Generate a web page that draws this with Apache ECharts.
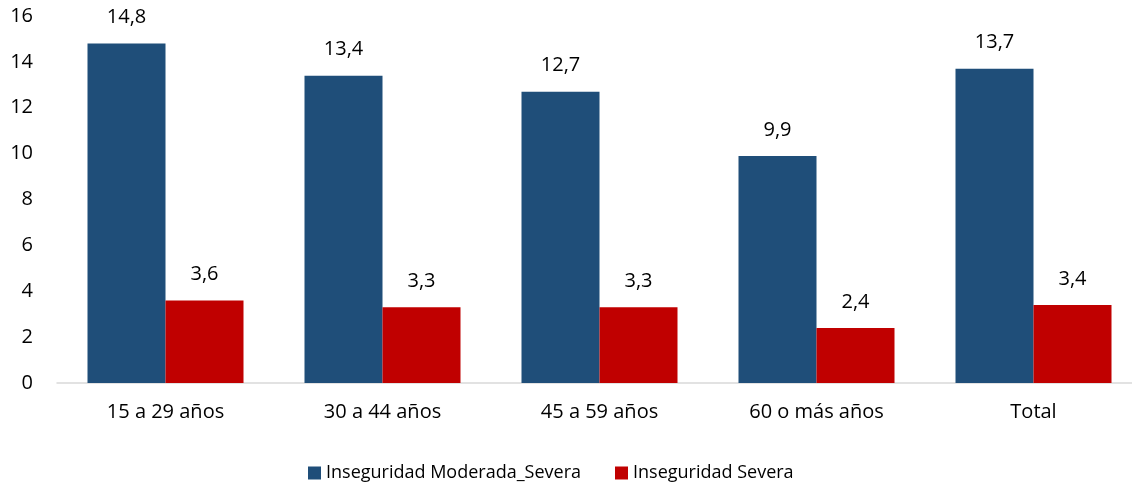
<!DOCTYPE html>
<html>
<head>
<meta charset="utf-8">
<script src="https://cdn.jsdelivr.net/npm/echarts@6/dist/echarts.min.js"></script>
<style>
  html, body { margin: 0; padding: 0; background: #fff; }
  #chart { width: 1132px; height: 487px; }
</style>
</head>
<body>
<div id="chart"></div>
<script>
const categories = ['15 a 29 años', '30 a 44 años', '45 a 59 años', '60 o más años', 'Total']
const moderadaSevera = [14.8, 13.4, 12.7, 9.9, 13.7]
const severa = [3.6, 3.3, 3.3, 2.4, 3.4]
const yTicks = { min: 0, max: 16, interval: 2 }

const font = '"Open Sans", sans-serif'
const commaLabel = p => String(p.value.toFixed(1)).replace('.', ',')

const chart = echarts.init(document.getElementById('chart'))
chart.setOption({
  animation: false,
  textStyle: { fontFamily: font },
  grid: { left: 57, top: 16, width: 1085, bottom: 104, outerBoundsMode: 'none', containLabel: false },
  legend: {
    bottom: 0,
    left: 303,
    icon: 'rect',
    itemWidth: 13,
    itemHeight: 13,
    itemGap: 34,
    textStyle: { fontSize: 18, color: '#000', fontFamily: font }
  },
  xAxis: {
    type: 'category',
    data: categories,
    axisTick: { show: false },
    axisLine: { lineStyle: { color: '#d9d9d9', width: 1.5 } },
    axisLabel: { fontSize: 20, color: '#000', margin: 19, fontFamily: font }
  },
  yAxis: {
    type: 'value',
    min: yTicks.min,
    max: yTicks.max,
    interval: yTicks.interval,
    splitLine: { show: false },
    axisLine: { show: false },
    axisTick: { show: false },
    axisLabel: { fontSize: 20, color: '#000', margin: 24, fontFamily: font }
  },
  series: [
    {
      name: 'Inseguridad Moderada_Severa',
      type: 'bar',
      data: moderadaSevera,
      barWidth: 78,
      barGap: '0%',
      itemStyle: { color: '#1F4E79' },
      label: { show: true, position: 'top', distance: 16, fontSize: 20, color: '#000', formatter: commaLabel }
    },
    {
      name: 'Inseguridad Severa',
      type: 'bar',
      data: severa,
      barWidth: 78,
      barGap: '0%',
      itemStyle: { color: '#C00000' },
      label: { show: true, position: 'top', distance: 16, fontSize: 20, color: '#000', formatter: commaLabel }
    }
  ]
})
</script>
</body>
</html>
